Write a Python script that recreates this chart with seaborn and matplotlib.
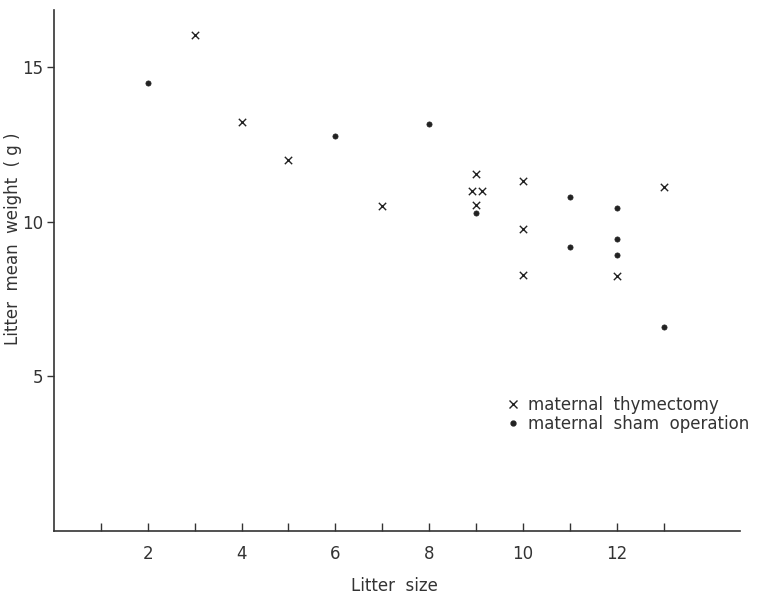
import numpy as np
import pandas as pd
import matplotlib
matplotlib.use("Agg")
import matplotlib.pyplot as plt
import seaborn as sns
from matplotlib.lines import Line2D

# maternal thymectomy (x markers)
thy_size = [3, 4, 5, 7, 9, 8.92, 9.12, 9, 10, 10, 10, 12, 13]
thy_weight = [16.03, 13.23, 12.0, 10.52, 11.55, 10.98, 10.98, 10.55, 11.32, 9.77, 8.27, 8.24, 11.11]

# maternal sham operation (dots)
sham_size = [2, 6, 8, 9, 11, 11, 12, 12, 12, 13]
sham_weight = [14.48, 12.77, 13.16, 10.29, 10.8, 9.18, 10.46, 9.44, 8.94, 6.59]

group_names = ["maternal  thymectomy", "maternal  sham  operation"]
x_ticks = list(range(1, 14))
x_ticklabels = ["", "2", "", "4", "", "6", "", "8", "", "10", "", "12", ""]
y_ticks = [5, 10, 15]

thy = pd.DataFrame({"size": thy_size, "weight": thy_weight})
sham = pd.DataFrame({"size": sham_size, "weight": sham_weight})

sns.set_style("white")
plt.rcParams["font.family"] = ["DejaVu Sans"]

fig = plt.figure(figsize=(7.66, 5.99), dpi=100)
ax = fig.add_axes([0.0705, 0.1135, 0.8955, 0.8695])

sns.scatterplot(data=thy, x="size", y="weight", marker="x", color="#222222",
                s=28, linewidth=1.0, ax=ax)
sns.scatterplot(data=sham, x="size", y="weight", marker="o", color="#222222",
                s=14, edgecolor="#222222", linewidth=0.5, ax=ax)

ax.set_xlim(0, 14.63)
ax.set_ylim(0, 16.84)
sns.despine(ax=ax)
for sp in ["left", "bottom"]:
    ax.spines[sp].set_color("#333333")
    ax.spines[sp].set_linewidth(1.2)

ax.set_xticks(x_ticks)
ax.set_xticklabels(x_ticklabels)
ax.set_yticks(y_ticks)
ax.tick_params(axis="x", direction="in", length=6, width=1, pad=10,
               labelsize=12, colors="#333333", bottom=True)
ax.tick_params(axis="y", direction="out", length=5, width=1, pad=3,
               labelsize=12, colors="#333333", left=True)

ax.set_xlabel("Litter  size", fontsize=12, color="#333333")
ax.xaxis.set_label_coords(0.497, -0.088)
ax.set_ylabel("Litter  mean  weight  ( g )", fontsize=12, color="#333333")
ax.yaxis.set_label_coords(-0.046, 0.562)

handles = [
    Line2D([], [], marker="x", linestyle="none", color="#222222", markersize=6, markeredgewidth=1),
    Line2D([], [], marker="o", linestyle="none", color="#222222", markersize=3.5),
]
leg = ax.legend(handles, group_names, loc="upper left", bbox_to_anchor=(0.66, 0.26),
                frameon=False, fontsize=12, handlelength=0.8, handletextpad=0.5,
                labelspacing=0.1, borderaxespad=0, borderpad=0)
for t in leg.get_texts():
    t.set_color("#333333")

fig.savefig("out.png", dpi=100)
plt.close()
